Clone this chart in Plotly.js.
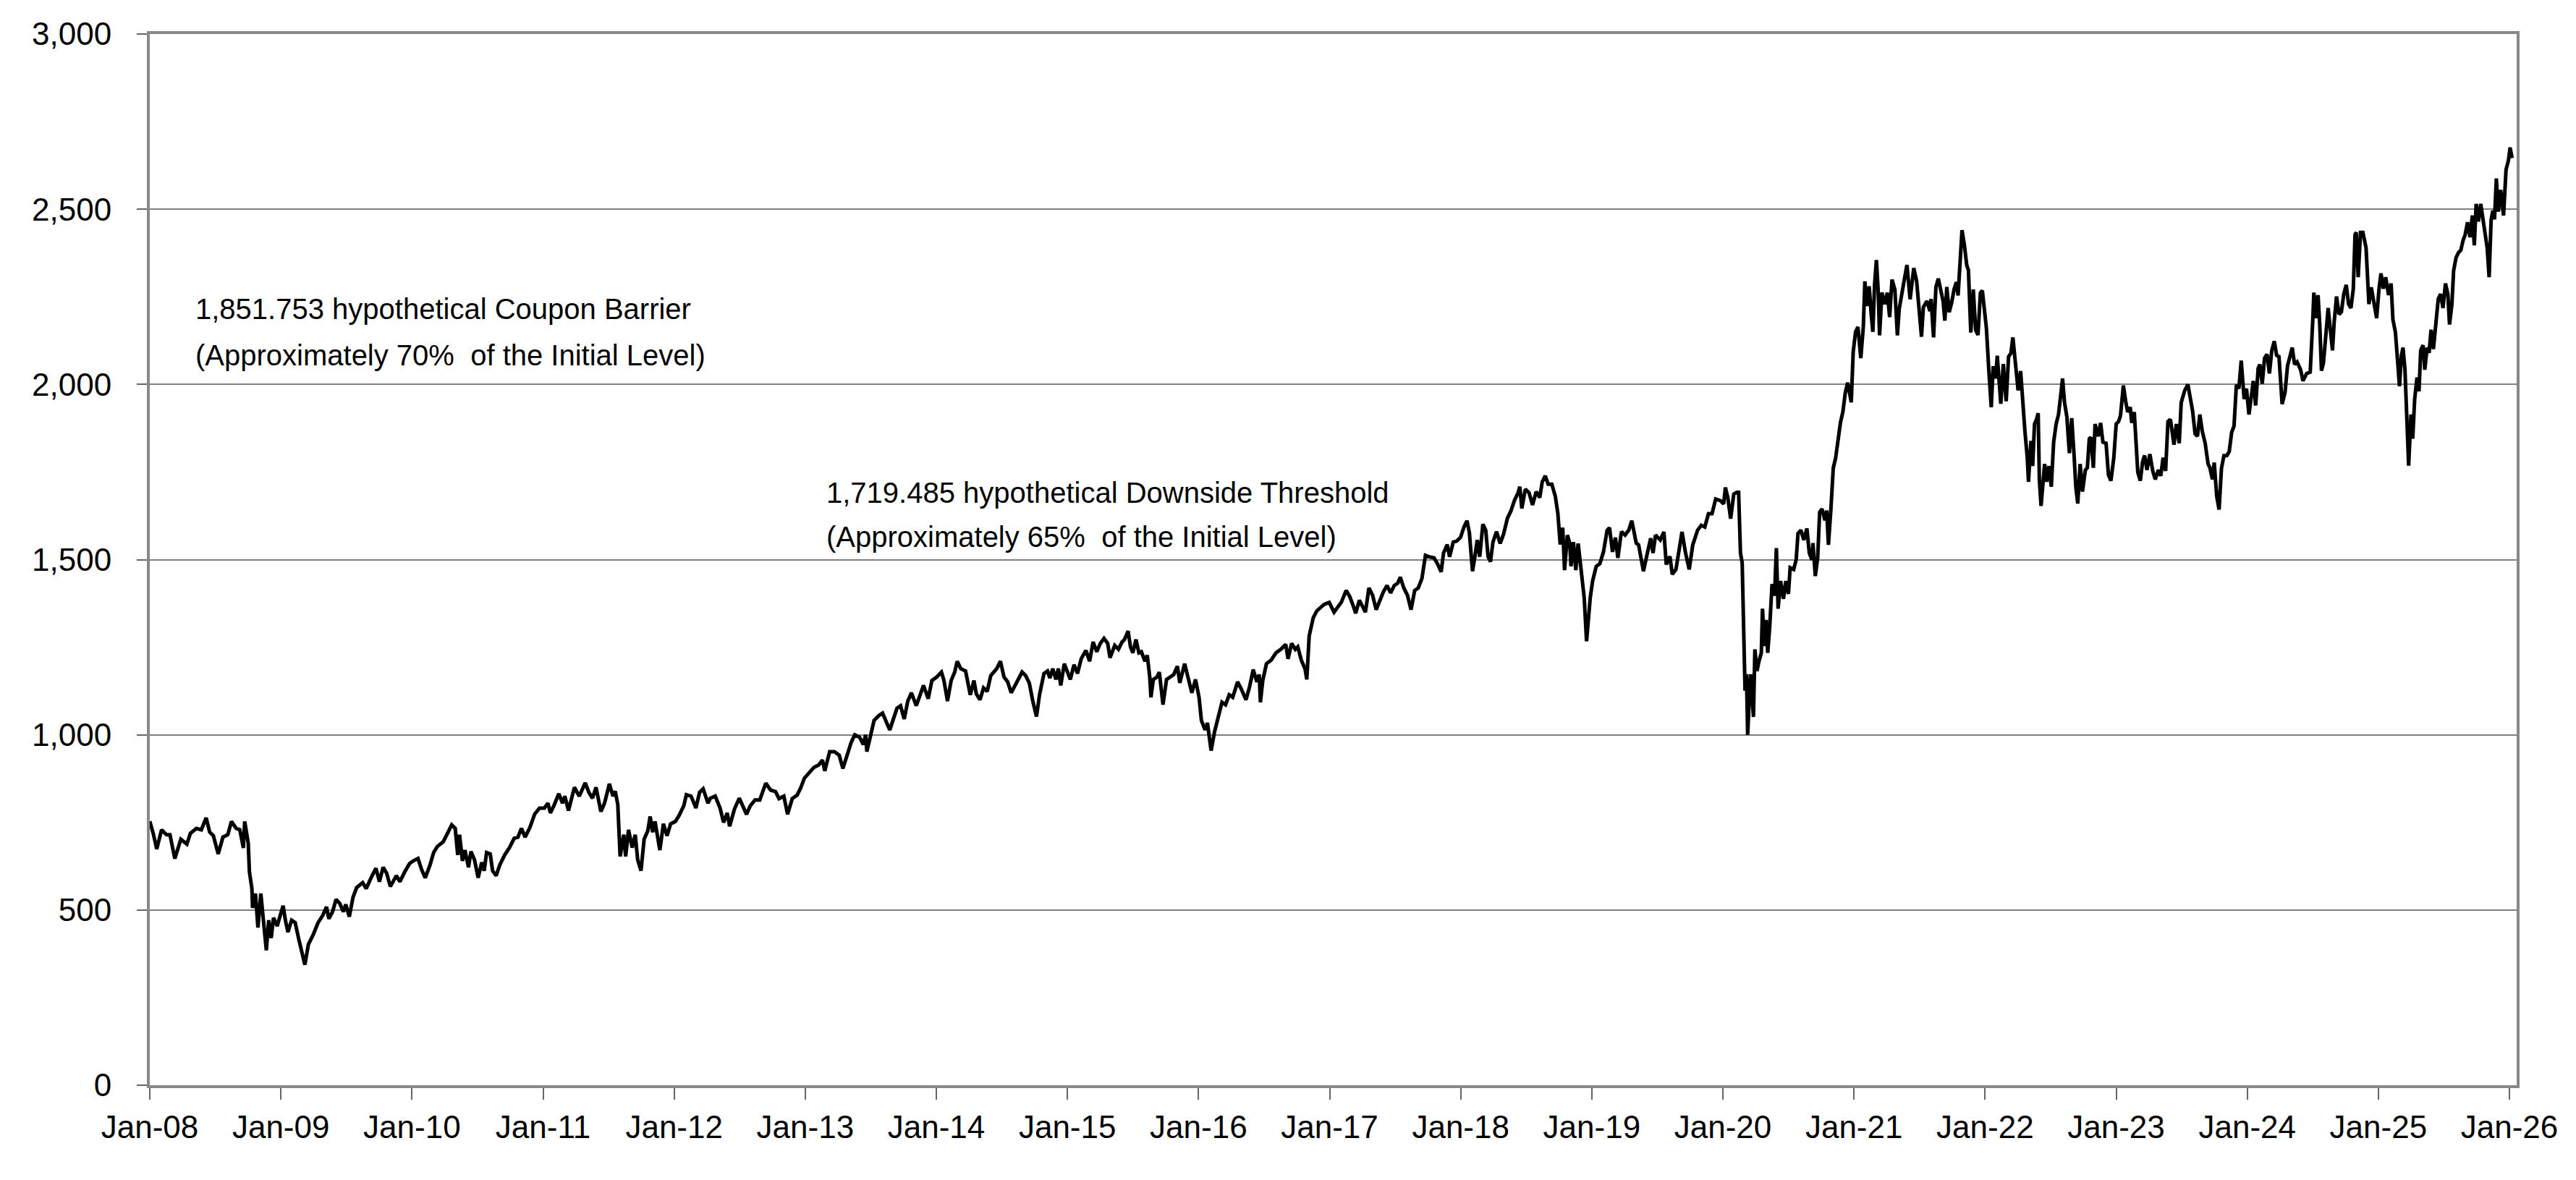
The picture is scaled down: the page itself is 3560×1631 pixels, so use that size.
<!DOCTYPE html>
<html>
<head>
<meta charset="utf-8">
<script src="https://cdn.plot.ly/plotly-3.0.1.min.js"></script>
<style>
  html, body { margin: 0; padding: 0; background: #fff; }
  #chart { width: 3560px; height: 1631px; }
</style>
</head>
<body>
<div id="chart"></div>
<script>
var yearTicks = [2008, 2009, 2010, 2011, 2012, 2013, 2014, 2015, 2016, 2017, 2018, 2019, 2020, 2021, 2022, 2023, 2024, 2025, 2026];
var yearLabels = ['Jan-08', 'Jan-09', 'Jan-10', 'Jan-11', 'Jan-12', 'Jan-13', 'Jan-14', 'Jan-15', 'Jan-16', 'Jan-17',
                  'Jan-18', 'Jan-19', 'Jan-20', 'Jan-21', 'Jan-22', 'Jan-23', 'Jan-24', 'Jan-25', 'Jan-26'];
var levelTicks = [0, 500, 1000, 1500, 2000, 2500, 3000];
var levelLabels = ['0', '500', '1,000', '1,500', '2,000', '2,500', '3,000'];

// Jan 2008 - Apr 2010
var dates08 = [2008.000,2008.026,2008.053,2008.090,2008.127,2008.154,2008.191,2008.237,2008.283,2008.310,2008.356,2008.393,2008.430,2008.457,2008.485,2008.522,2008.558,2008.595,2008.623,2008.659,2008.687,2008.714,2008.724,2008.751,2008.760,2008.779,2008.784,2008.806,2008.825,2008.847,2008.871,2008.889,2008.907,2008.926,2008.944,2008.972,2008.990,
  2009.017,2009.036,2009.054,2009.082,2009.109,2009.137,2009.183,2009.210,2009.247,2009.284,2009.320,2009.348,2009.366,2009.394,2009.421,2009.449,2009.477,2009.495,2009.522,2009.550,2009.578,2009.624,2009.651,2009.688,2009.725,2009.752,2009.780,2009.807,2009.835,2009.881,2009.908,2009.945,2009.982,
  2010.009,2010.046,2010.073,2010.101,2010.138,2010.165,2010.193,2010.239,2010.275];
var levels08 = [753,719,674,729,715,715,647,702,688,719,733,729,763,722,712,660,708,715,753,733,729,677,753,691,609,561,506,547,450,547,454,385,471,420,478,454,478,
  512,468,437,471,464,416,344,402,430,464,485,509,475,495,530,519,495,516,481,536,564,578,561,592,619,581,622,605,567,598,581,609,633,
  640,647,616,592,629,664,681,695,722];

// Apr 2010 - Jul 2012
var dates10 = [2010.303,2010.330,2010.349,2010.363,2010.385,2010.404,2010.431,2010.450,2010.477,2010.505,2010.532,2010.551,2010.569,2010.597,2010.615,2010.642,2010.670,2010.707,2010.744,2010.780,2010.808,2010.835,2010.863,2010.900,2010.936,2010.973,
  2011.010,2011.037,2011.056,2011.083,2011.120,2011.148,2011.166,2011.194,2011.239,2011.276,2011.322,2011.349,2011.377,2011.404,2011.441,2011.469,2011.506,2011.533,2011.551,2011.570,2011.588,2011.616,2011.630,2011.652,2011.680,2011.703,2011.722,2011.747,2011.771,2011.799,2011.817,2011.836,2011.854,2011.891,2011.918,2011.946,2011.973,
  2012.010,2012.038,2012.074,2012.093,2012.129,2012.166,2012.194,2012.221,2012.258,2012.276,2012.313,2012.350,2012.377,2012.405,2012.423,2012.460,2012.497,2012.524];
var levels10 = [743,733,657,715,640,671,622,667,643,592,636,612,664,660,612,598,629,657,678,705,708,733,708,736,774,791,
  791,805,777,798,832,805,825,784,850,825,863,836,819,850,781,805,860,825,839,801,653,715,653,729,678,715,643,612,702,726,767,722,753,671,746,712,746,
  753,770,798,829,825,791,836,846,805,819,825,791,750,777,739,788,819,794];

// Jul 2012 - Oct 2014
var dates12 = [2012.552,2012.580,2012.617,2012.653,2012.672,2012.699,2012.736,2012.773,2012.800,2012.837,2012.865,2012.901,2012.938,2012.966,2012.993,
  2013.030,2013.066,2013.103,2013.131,2013.149,2013.186,2013.222,2013.259,2013.287,2013.323,2013.351,2013.378,2013.415,2013.443,2013.461,2013.470,2013.498,2013.525,2013.562,2013.590,2013.617,2013.645,2013.672,2013.700,2013.727,2013.755,2013.782,2013.810,2013.847,2013.874,2013.902,2013.938,2013.966,
  2014.003,2014.039,2014.058,2014.085,2014.113,2014.140,2014.159,2014.186,2014.223,2014.259,2014.287,2014.305,2014.333,2014.360,2014.388,2014.415,2014.461,2014.489,2014.516,2014.544,2014.571,2014.608,2014.654,2014.681,2014.709,2014.736,2014.764,2014.787];
var levels12 = [773,797,814,814,835,862,842,838,818,825,773,818,828,849,876,
  890,907,914,928,897,952,952,942,904,945,979,1000,993,972,1000,952,1000,1041,1055,1062,1038,1014,1045,1076,1083,1045,1096,1120,1083,1114,1141,1103,1155,
  1165,1179,1155,1096,1155,1179,1210,1189,1182,1114,1155,1117,1100,1134,1124,1169,1189,1210,1165,1151,1120,1148,1179,1169,1148,1096,1052,1114];

// Oct 2014 - Dec 2016
var dates14 = [2014.821,2014.848,2014.866,2014.888,2014.912,2014.931,2014.949,2014.976,
  2015.004,2015.022,2015.050,2015.077,2015.105,2015.141,2015.169,2015.196,2015.224,2015.251,2015.279,2015.307,2015.325,2015.361,2015.389,2015.417,2015.435,2015.463,2015.481,2015.499,2015.523,2015.545,2015.564,2015.591,2015.609,2015.628,2015.637,2015.655,2015.683,2015.701,2015.729,2015.756,2015.784,2015.811,2015.839,2015.857,2015.894,2015.922,2015.949,2015.977,
  2016.004,2016.022,2016.050,2016.068,2016.096,2016.123,2016.151,2016.179,2016.206,2016.234,2016.261,2016.298,2016.326,2016.362,2016.390,2016.417,2016.445,2016.463,2016.472,2016.490,2016.518,2016.554,2016.591,2016.628,2016.665,2016.683,2016.710,2016.738,2016.757,2016.784,2016.812,2016.826,2016.844,2016.875,2016.903,2016.931,2016.958];
var levels14 = [1175,1182,1162,1189,1158,1189,1141,1203,
  1179,1158,1200,1175,1217,1241,1210,1265,1237,1261,1275,1261,1220,1255,1244,1265,1272,1296,1251,1234,1272,1234,1237,1210,1227,1165,1107,1158,1165,1179,1086,1158,1165,1172,1196,1148,1203,1165,1120,1158,
  1107,1041,1014,1034,955,1010,1055,1093,1086,1114,1107,1151,1131,1100,1138,1186,1151,1172,1093,1155,1203,1213,1234,1244,1258,1217,1261,1244,1251,1213,1189,1158,1282,1334,1354,1365,1372];

// Jan 2017 - Apr 2019
var dates17 = [2016.997,
  2017.034,2017.061,2017.089,2017.126,2017.153,2017.181,2017.199,2017.227,2017.254,2017.273,2017.300,2017.328,2017.355,2017.383,2017.410,2017.438,2017.465,2017.493,2017.520,2017.539,2017.566,2017.594,2017.621,2017.649,2017.676,2017.704,2017.731,2017.759,2017.796,2017.823,2017.851,2017.869,2017.897,2017.915,2017.943,2017.970,2017.998,
  2018.026,2018.048,2018.066,2018.090,2018.108,2018.126,2018.145,2018.169,2018.191,2018.209,2018.227,2018.246,2018.273,2018.301,2018.328,2018.356,2018.383,2018.411,2018.438,2018.451,2018.466,2018.493,2018.521,2018.548,2018.576,2018.603,2018.622,2018.645,2018.667,2018.695,2018.722,2018.741,2018.759,2018.778,2018.792,2018.814,2018.832,2018.841,2018.860,2018.878,2018.896,2018.924,2018.942,2018.960,2018.988,
  2019.006,2019.034,2019.061,2019.089,2019.117,2019.135,2019.158,2019.180,2019.199,2019.226,2019.254,2019.282,2019.305];
var levels17 = [1378,
  1350,1364,1378,1412,1395,1367,1347,1384,1364,1350,1419,1398,1357,1384,1408,1426,1405,1426,1433,1450,1419,1398,1357,1412,1419,1446,1512,1508,1505,1488,1465,1519,1543,1508,1550,1553,1563,
  1594,1611,1577,1467,1508,1556,1508,1601,1584,1508,1494,1550,1580,1546,1574,1618,1639,1670,1691,1708,1646,1701,1691,1656,1694,1677,1722,1739,1715,1715,1680,1632,1543,1591,1470,1570,1546,1481,1550,1470,1546,1446,1391,1267,1391,
  1439,1481,1488,1522,1584,1591,1522,1563,1505,1580,1570,1584,1611];

// Apr 2019 - Jul 2021
var dates19 = [2019.339,2019.357,2019.375,2019.394,2019.421,2019.449,2019.467,2019.486,2019.522,2019.550,2019.568,2019.596,2019.614,2019.642,2019.660,2019.688,2019.715,2019.743,2019.770,2019.807,2019.835,2019.862,2019.890,2019.917,2019.945,2019.982,
  2020.006,2020.019,2020.037,2020.059,2020.083,2020.105,2020.120,2020.134,2020.147,2020.156,2020.169,2020.180,2020.189,2020.202,2020.211,2020.220,2020.233,2020.244,2020.260,2020.275,2020.293,2020.302,2020.317,2020.330,2020.342,2020.357,2020.375,2020.394,2020.408,2020.421,2020.440,2020.462,2020.480,2020.500,2020.513,2020.540,2020.559,2020.573,2020.595,2020.617,2020.641,2020.659,2020.678,2020.687,2020.705,2020.723,2020.738,2020.756,2020.778,2020.792,2020.805,2020.824,2020.842,2020.860,2020.879,2020.897,2020.915,2020.934,2020.952,2020.979,2020.994,
  2021.012,2021.030,2021.052,2021.071,2021.083,2021.098,2021.116,2021.131,2021.144,2021.157,2021.171,2021.184,2021.195,2021.213,2021.235,2021.254,2021.272,2021.290,2021.312,2021.331,2021.345,2021.373,2021.404,2021.428,2021.456,2021.478,2021.496,2021.515,2021.529,2021.557];
var levels19 = [1547,1542,1500,1467,1514,1561,1519,1570,1556,1579,1486,1509,1458,1472,1514,1579,1519,1472,1542,1584,1598,1593,1631,1631,1673,1668,
  1659,1706,1678,1617,1687,1692,1692,1519,1491,1313,1126,1173,1000,1107,1173,1126,1051,1244,1182,1210,1234,1360,1253,1328,1234,1308,1430,1397,1533,1360,1439,1388,1439,1402,1477,1472,1500,1575,1584,1556,1589,1519,1500,1547,1453,1505,1635,1645,1612,1640,1542,1645,1762,1790,1851,1892,1921,1977,2005,1949,2093,
  2150,2164,2075,2164,2294,2224,2280,2201,2150,2285,2355,2271,2140,2262,2229,2262,2192,2299,2271,2140,2215,2276,2341,2243,2332,2294,2229,2136,2220,2238];

// Jul 2021 - Oct 2023
var dates21 = [2021.579,2021.588,2021.607,2021.625,2021.643,2021.662,2021.680,2021.693,2021.708,2021.726,2021.745,2021.763,2021.781,2021.794,2021.809,2021.824,2021.842,2021.860,2021.873,2021.891,2021.910,2021.928,2021.946,2021.964,2021.979,2021.996,
  2022.010,2022.029,2022.047,2022.062,2022.080,2022.093,2022.106,2022.120,2022.139,2022.161,2022.179,2022.197,2022.212,2022.230,2022.252,2022.271,2022.285,2022.304,2022.322,2022.331,2022.350,2022.363,2022.377,2022.392,2022.405,2022.414,2022.427,2022.441,2022.454,2022.469,2022.487,2022.505,2022.523,2022.542,2022.560,2022.579,2022.591,2022.606,2022.624,2022.643,2022.661,2022.679,2022.692,2022.707,2022.725,2022.743,2022.765,2022.780,2022.795,2022.807,2022.826,2022.839,2022.863,2022.881,2022.899,2022.923,2022.941,2022.960,2022.982,
  2023.000,2023.018,2023.033,2023.055,2023.074,2023.088,2023.107,2023.119,2023.138,2023.151,2023.165,2023.184,2023.202,2023.217,2023.235,2023.257,2023.279,2023.298,2023.322,2023.340,2023.358,2023.377,2023.395,2023.414,2023.441,2023.459,2023.481,2023.496,2023.523,2023.547,2023.565,2023.583,2023.602,2023.620,2023.638,2023.657,2023.679,2023.701,2023.715,2023.734,2023.748,2023.767,2023.785,2023.803,2023.822];
var levels21 = [2209,2244,2134,2278,2302,2271,2237,2182,2278,2206,2233,2271,2292,2254,2357,2440,2398,2340,2326,2148,2271,2155,2141,2261,2268,2196,
  2161,2038,1935,2052,2017,2082,2024,1945,2058,1952,2079,2089,2134,2058,1983,2038,1948,1866,1791,1722,1839,1767,1887,1900,1918,1729,1653,1708,1773,1722,1767,1708,1835,1887,1914,1976,2017,1948,1907,1804,1904,1797,1708,1660,1773,1694,1756,1762,1845,1849,1762,1887,1852,1890,1835,1832,1742,1725,1791,
  1887,1894,1911,1997,1948,1921,1935,1890,1921,1832,1749,1725,1780,1797,1756,1801,1753,1729,1756,1739,1791,1753,1894,1900,1828,1887,1832,1948,1983,2000,1955,1924,1859,1852,1914,1866,1832,1773,1762,1729,1777,1681,1643,1760,1797];

// Nov 2023 - Jan 2026
var dates23 = [2023.844,2023.862,2023.881,2023.899,2023.917,2023.936,2023.954,2023.976,2023.994,
  2024.013,2024.031,2024.046,2024.064,2024.083,2024.096,2024.114,2024.132,2024.151,2024.169,2024.187,2024.206,2024.224,2024.242,2024.266,2024.288,2024.307,2024.325,2024.343,2024.361,2024.380,2024.407,2024.425,2024.453,2024.480,2024.499,2024.508,2024.526,2024.540,2024.553,2024.566,2024.581,2024.599,2024.617,2024.632,2024.650,2024.663,2024.681,2024.700,2024.718,2024.736,2024.755,2024.773,2024.791,2024.809,2024.822,2024.831,2024.846,2024.864,2024.882,2024.906,2024.928,2024.946,2024.965,2024.987,
  2025.005,2025.020,2025.038,2025.056,2025.078,2025.097,2025.111,2025.130,2025.148,2025.161,2025.176,2025.188,2025.203,2025.218,2025.231,2025.249,2025.262,2025.277,2025.295,2025.310,2025.323,2025.341,2025.354,2025.372,2025.387,2025.402,2025.420,2025.438,2025.457,2025.475,2025.493,2025.512,2025.530,2025.543,2025.561,2025.574,2025.592,2025.611,2025.629,2025.647,2025.662,2025.680,2025.699,2025.717,2025.732,2025.746,2025.763,2025.781,2025.799,2025.818,2025.830,2025.845,2025.860,2025.873,2025.886,2025.900,2025.915,2025.933,2025.955,2025.974,2025.992,
  2026.005,2026.020];
var levels23 = [1797,1808,1863,1881,1999,1988,2068,1958,1988,
  1914,1980,2010,1940,2046,2057,2002,2075,2086,2031,2097,2123,2083,2079,1944,1977,2053,2079,2105,2057,2064,2042,2010,2031,2035,2178,2262,2189,2255,2171,2039,2061,2141,2218,2163,2097,2178,2251,2200,2207,2258,2284,2229,2218,2273,2427,2434,2306,2434,2434,2390,2229,2277,2229,2189,
  2273,2317,2273,2306,2255,2288,2185,2149,2061,1995,2083,2105,2042,1922,1768,1914,1845,1958,2020,1980,2097,2112,2042,2105,2090,2156,2101,2171,2244,2258,2218,2288,2258,2171,2229,2324,2361,2376,2383,2412,2427,2463,2420,2482,2397,2515,2465,2515,2469,2434,2390,2306,2469,2496,2471,2588,2493,2555,2482,2613,2639,
  2676,2646];

var barrierLines = ['1,851.753 hypothetical Coupon Barrier', '(Approximately 70%\u00a0 of the Initial Level)'];
var thresholdLines = ['1,719.485 hypothetical Downside Threshold', '(Approximately 65%\u00a0 of the Initial Level)'];

var allDates = [].concat(dates08, dates10, dates12, dates14, dates17, dates19, dates21, dates23);
var allLevels = [].concat(levels08, levels10, levels12, levels14, levels17, levels19, levels21, levels23);

var fontFamily = "'Liberation Sans', Arial, Helvetica, sans-serif";

var data = [
  {
    x: allDates,
    y: allLevels,
    type: 'scatter',
    mode: 'lines',
    line: { color: '#000000', width: 5 },
    hoverinfo: 'skip'
  }
];

function noteLine(text, x, y) {
  return {
    x: x, y: y, xref: 'x', yref: 'y',
    text: text, showarrow: false,
    xanchor: 'left', yanchor: 'middle',
    font: { family: fontFamily, size: 40, color: '#000' }
  };
}

var layout = {
  width: 3560,
  height: 1631,
  margin: { l: 207, r: 82, t: 47, b: 131 },
  paper_bgcolor: '#ffffff',
  plot_bgcolor: '#ffffff',
  showlegend: false,
  font: { family: fontFamily, size: 44, color: '#000' },
  xaxis: {
    range: [2008, 2026.055],
    tickvals: yearTicks,
    ticktext: yearLabels,
    ticks: 'outside',
    ticklen: 16,
    tickwidth: 2,
    tickcolor: '#666',
    showgrid: false,
    zeroline: false,
    showline: true,
    linecolor: '#888',
    linewidth: 4,
    mirror: true,
    tickfont: { family: fontFamily, size: 44, color: '#000' }
  },
  yaxis: {
    range: [0, 3000],
    tickvals: levelTicks,
    ticktext: levelLabels,
    ticks: 'outside',
    ticklen: 14,
    tickwidth: 2,
    tickcolor: '#666',
    showgrid: true,
    gridcolor: '#808080',
    gridwidth: 2,
    zeroline: false,
    showline: true,
    linecolor: '#888',
    linewidth: 4,
    mirror: true,
    ticklabelstandoff: 26,
    tickfont: { family: fontFamily, size: 44, color: '#000' }
  },
  annotations: [
    noteLine(barrierLines[0], 2008.336, 2215),
    noteLine(barrierLines[1], 2008.336, 2083),
    noteLine(thresholdLines[0], 2013.15, 1691),
    noteLine(thresholdLines[1], 2013.15, 1565)
  ]
};

Plotly.newPlot('chart', data, layout, { displayModeBar: false, staticPlot: true });
</script>
</body>
</html>
